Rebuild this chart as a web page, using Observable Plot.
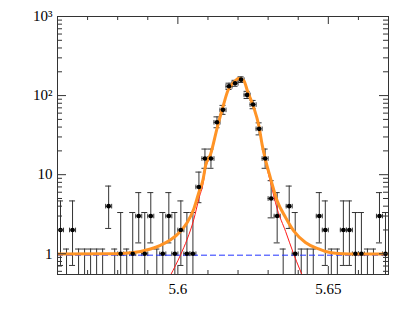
<!DOCTYPE html>
<html><head><meta charset="utf-8">
<script src="https://cdn.jsdelivr.net/npm/d3@7"></script>
<script src="https://cdn.jsdelivr.net/npm/@observablehq/plot@0.6"></script>
<style>body{margin:0;background:#fff}#chart svg{display:block}#chart svg text{font-family:"Liberation Serif",serif !important;font-size:15px}</style>
</head><body><div id="chart"></div>
<script>
// ---- data ----
const binCenters = [5.561,5.563,5.565,5.567,5.569,5.571,5.573,5.575,5.577,5.579,
  5.581,5.583,5.585,5.587,5.589,5.591,5.593,5.595,5.597,5.599,
  5.601,5.603,5.605,5.607,5.609,5.611,5.613,5.615,5.617,5.619,
  5.621,5.623,5.625,5.627,5.629,5.631,5.633,5.635,5.637,5.639,
  5.641,5.643,5.645,5.647,5.649,5.651,5.653,5.655,5.657,5.659,
  5.661,5.663,5.665,5.667,5.669];
const counts = [2,0,2,0,0,0,0,0,4,0,
  1,0,1,3,1,3,0,1,3,1,
  2,1,1,7,16,16,46,66,131,143,
  159,102,77,38,16,5,3,0,4,1,
  0,0,0,3,2,0,0,2,2,1,
  1,0,0,3,1];
const binHalfWidth = 0.001;

// total fit curve (orange)
const fitX = [5.5600,5.5769,5.5853,5.5909,5.5942,5.5976,5.6009,5.6031,5.6053,5.6070,5.6084,5.6092,5.6109,5.6131,5.6151,5.6166,5.6186,5.6202,5.6219,5.6232,5.6252,5.6269,5.6280,5.6291,5.6308,5.6330,5.6358,5.6385,5.6424,5.6468,5.6491,5.6531,5.6607,5.6700];
const fitY = [0.99,1.00,1.04,1.15,1.28,1.50,1.93,2.49,3.68,6.0,8.8,13,18.3,39.7,75,115,147,165,155,112,71,41.7,24,15.5,9.0,4.68,2.88,1.95,1.39,1.15,1.07,1.01,0.99,0.99];
// signal component (red)
const sigX = [5.5942,5.5976,5.6009,5.6031,5.6053,5.6070,5.6084,5.6092,5.6109,5.6131,5.6151,5.6166,5.6186,5.6202,5.6219,5.6232,5.6252,5.6269,5.6280,5.6291,5.6308,5.6330,5.6358,5.6385,5.6424];
const sigY = [0.32,0.54,0.97,1.53,2.72,5.0,7.8,12,17.3,38.7,74,114,146,164,154,111,70,40.7,23,14.5,8.0,3.7,1.92,0.99,0.43];
// background component (blue dashed)
const bkgLevel = 0.96;

const xMajorTicks = [5.6, 5.65];
const xMinorTicks = [5.57,5.58,5.59,5.61,5.62,5.63,5.64,5.66];
const yMajorTicks = [1, 10, 100, 1000];
const yTickLabels = ["1", "10", "10²", "10³"];
const yMinorTicks = [0.6,0.7,0.8,0.9,2,3,4,5,6,7,8,9,20,30,40,50,60,70,80,90,200,300,400,500,600,700,800,900];

// ---- build ----
const W = 409, H = 327;
const mL = 57, mT = 16, mR = 21, mB = 53;
const pw = W - mL - mR, ph = H - mT - mB;

function poisLo(n){ return n === 0 ? 1e-4 : n * Math.pow(1 - 1/(9*n) - 1/(3*Math.sqrt(n)), 3); }
function poisHi(n){ return n === 0 ? 1.148 : n + Math.sqrt(n + 0.75) + 1; }

const pts = binCenters.map((c, i) => ({c, n: counts[i], lo: poisLo(counts[i]), hi: poisHi(counts[i])}));
const nz = pts.filter(d => d.n > 0);
const fit = fitX.map((x, i) => ({x, y: fitY[i]}));
const sig = sigX.map((x, i) => ({x, y: sigY[i]}));

const vcap = {draw(ctx, size){ const r = Math.sqrt(size/Math.PI); ctx.moveTo(0, -r); ctx.lineTo(0, r); }};
const ink = "#333";
const labelMap = new Map(yMajorTicks.map((t, i) => [t, yTickLabels[i]]));

const chart = Plot.plot({
  width: W, height: H,
  marginLeft: mL, marginTop: mT, marginRight: mR, marginBottom: mB,
  style: {fontFamily: "'Liberation Serif', serif", fontSize: "15px", background: "white", color: "black"},
  x: {domain: [5.56, 5.67]},
  y: {type: "log", domain: [0.547, 1000]},
  marks: [
    // vertical error bars
    Plot.ruleX(pts, {x: "c", y1: "lo", y2: "hi", stroke: ink, strokeWidth: 1, clip: true}),
    Plot.ruleY(pts, {y: "hi", x1: d => d.c - binHalfWidth, x2: d => d.c + binHalfWidth, stroke: ink, clip: true}),
    Plot.ruleY(nz, {y: "lo", x1: d => d.c - binHalfWidth, x2: d => d.c + binHalfWidth, stroke: ink, clip: true}),
    // horizontal error bars
    Plot.ruleY(nz, {y: "n", x1: d => d.c - binHalfWidth, x2: d => d.c + binHalfWidth, stroke: ink, clip: true}),
    Plot.dot(nz, {x: d => d.c - binHalfWidth, y: "n", symbol: vcap, r: 2.3, stroke: ink, fill: "none", strokeWidth: 1}),
    Plot.dot(nz, {x: d => d.c + binHalfWidth, y: "n", symbol: vcap, r: 2.3, stroke: ink, fill: "none", strokeWidth: 1}),
    // components
    Plot.ruleY([bkgLevel], {stroke: "#2233ff", strokeWidth: 1, strokeDasharray: "6,3"}),
    Plot.line(sig, {x: "x", y: "y", stroke: "#ff1a1a", strokeWidth: 1, curve: "monotone-x", clip: true}),
    Plot.line(fit, {x: "x", y: "y", stroke: "#ff9426", strokeWidth: 3, curve: "monotone-x", clip: true}),
    // markers
    Plot.dot(nz, {x: "c", y: "n", r: 2.3, fill: "black", stroke: "none"}),
    // ticks (inward, ROOT style)
    Plot.tickX(xMinorTicks, {x: d => d, insetTop: ph - 4, stroke: ink}),
    Plot.tickX(xMinorTicks, {x: d => d, insetBottom: ph - 4, stroke: ink}),
    Plot.tickX(xMajorTicks, {x: d => d, insetTop: ph - 8, stroke: ink}),
    Plot.tickX(xMajorTicks, {x: d => d, insetBottom: ph - 8, stroke: ink}),
    Plot.tickY(yMinorTicks, {y: d => d, insetRight: pw - 5, stroke: ink}),
    Plot.tickY(yMinorTicks, {y: d => d, insetLeft: pw - 5, stroke: ink}),
    Plot.tickY(yMajorTicks, {y: d => d, insetRight: pw - 9, stroke: ink}),
    Plot.tickY(yMajorTicks, {y: d => d, insetLeft: pw - 9, stroke: ink}),
    Plot.frame({stroke: ink, strokeWidth: 1}),
    Plot.axisX({ticks: xMajorTicks, tickSize: 0, tickPadding: 9, tickFormat: d => String(d), label: null}),
    Plot.axisY({ticks: yMajorTicks, tickSize: 0, tickPadding: 5, tickFormat: d => labelMap.get(d), label: null})
  ]
});
document.getElementById("chart").appendChild(chart);
</script>
</body></html>
